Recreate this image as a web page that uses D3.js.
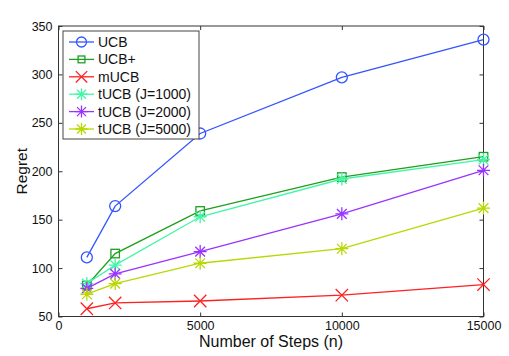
<!DOCTYPE html>
<html><head><meta charset="utf-8">
<script src="https://cdn.jsdelivr.net/npm/d3@7"></script>
<style>body{margin:0;background:#fff}svg{display:block}text{font-family:"Liberation Sans",Arial,sans-serif}</style>
</head><body><svg id="c" width="509" height="356"></svg>
<script>
const steps = [1000, 2000, 5000, 10000, 15000];
const seriesNames = ["UCB", "UCB+", "mUCB", "tUCB (J=1000)", "tUCB (J=2000)", "tUCB (J=5000)"];
const ucb = [111, 164, 239, 297, 336];
const ucbPlus = [82, 115, 159, 194, 215];
const mucb = [58, 64, 66, 72, 83];
const tucb1000 = [84, 103, 153, 192, 212];
const tucb2000 = [79, 94, 117, 156, 201];
const tucb5000 = [73, 84, 105, 120, 162];
const xTicks = [0, 5000, 10000, 15000];
const yTicks = [50, 100, 150, 200, 250, 300, 350];
const colors = ["#3355ff", "#1f9f1f", "#ff2020", "#44f5a8", "#9933ff", "#b8d800"];
const markers = ["circle", "square", "x", "star", "star", "star"];
const values = [ucb, ucbPlus, mucb, tucb1000, tucb2000, tucb5000];

const svg = d3.select("#c");
const L = 58.5, R = 483.5, T = 26, B = 316.5;
const x = d3.scaleLinear().domain([0, 15000]).range([L, R]);
const y = d3.scaleLinear().domain([50, 350]).range([B, T]);
const axisColor = "#333";

const g = svg.append("g");
g.append("g").attr("transform", `translate(0,${B})`).call(d3.axisBottom(x).tickValues(xTicks).tickSize(-4).tickPadding(5).tickFormat(d3.format("d")));
g.append("g").attr("transform", `translate(0,${T})`).call(d3.axisTop(x).tickValues(xTicks).tickSize(-4).tickFormat(""));
g.append("g").attr("transform", `translate(${L},0)`).call(d3.axisLeft(y).tickValues(yTicks).tickSize(-4).tickPadding(6));
g.append("g").attr("transform", `translate(${R},0)`).call(d3.axisRight(y).tickValues(yTicks).tickSize(-4).tickFormat(""));
g.selectAll(".domain").remove();
g.selectAll(".tick line").attr("stroke", axisColor);
g.selectAll(".tick text").attr("fill", "#111").style("font-size", "12.5px");
svg.append("rect").attr("x", L).attr("y", T).attr("width", R - L).attr("height", B - T)
  .attr("fill", "none").attr("stroke", axisColor).attr("stroke-width", 1);

function drawMarker(sel, type, cx, cy, color, s) {
  if (type === "circle") {
    sel.append("circle").attr("cx", cx).attr("cy", cy).attr("r", s).attr("fill", "none").attr("stroke", color).attr("stroke-width", 1.3);
  } else if (type === "square") {
    sel.append("rect").attr("x", cx - s * 0.85).attr("y", cy - s * 0.85).attr("width", s * 1.7).attr("height", s * 1.7).attr("fill", "none").attr("stroke", color).attr("stroke-width", 1.3);
  } else if (type === "x") {
    const d = s * 0.95;
    sel.append("path").attr("d", `M${cx - d},${cy - d}L${cx + d},${cy + d}M${cx - d},${cy + d}L${cx + d},${cy - d}`).attr("stroke", color).attr("stroke-width", 1.3).attr("fill", "none");
  } else {
    const d = s, e = s * 0.75;
    sel.append("path").attr("d", `M${cx - d},${cy}L${cx + d},${cy}M${cx},${cy - d}L${cx},${cy + d}M${cx - e},${cy - e}L${cx + e},${cy + e}M${cx - e},${cy + e}L${cx + e},${cy - e}`).attr("stroke", color).attr("stroke-width", 1.3).attr("fill", "none");
  }
}

const line = d3.line().x((d, i) => x(steps[i])).y(d => y(d));
values.forEach((vals, k) => {
  const sg = svg.append("g");
  sg.append("path").datum(vals).attr("d", line).attr("fill", "none").attr("stroke", colors[k]).attr("stroke-width", 1.3);
  vals.forEach((v, i) => drawMarker(sg, markers[k], x(steps[i]), y(v), colors[k], markers[k] === "circle" ? 5.5 : (markers[k] === "square" ? 5 : 6.5)));
});

const lg = svg.append("g");
lg.append("rect").attr("x", 63).attr("y", 31).attr("width", 136).attr("height", 108).attr("fill", "#fff").attr("stroke", "#444").attr("stroke-width", 1);
seriesNames.forEach((n, k) => {
  const yy = 42 + k * 17.4;
  lg.append("line").attr("x1", 69).attr("x2", 94).attr("y1", yy).attr("y2", yy).attr("stroke", colors[k]).attr("stroke-width", 1.3);
  drawMarker(lg, markers[k], 81.5, yy, colors[k], markers[k] === "circle" ? 5 : (markers[k] === "square" ? 4 : 6));
  lg.append("text").attr("x", 98).attr("y", yy).attr("dy", "0.36em").style("font-size", "14px").attr("fill", "#111").text(n);
});

svg.append("text").attr("x", (L + R) / 2).attr("y", 347).attr("text-anchor", "middle").style("font-size", "16px").attr("fill", "#111").text("Number of Steps (n)");
svg.append("text").attr("transform", `translate(27,${(T + B) / 2}) rotate(-90)`).attr("text-anchor", "middle").style("font-size", "15.5px").attr("fill", "#111").text("Regret");
</script></body></html>
